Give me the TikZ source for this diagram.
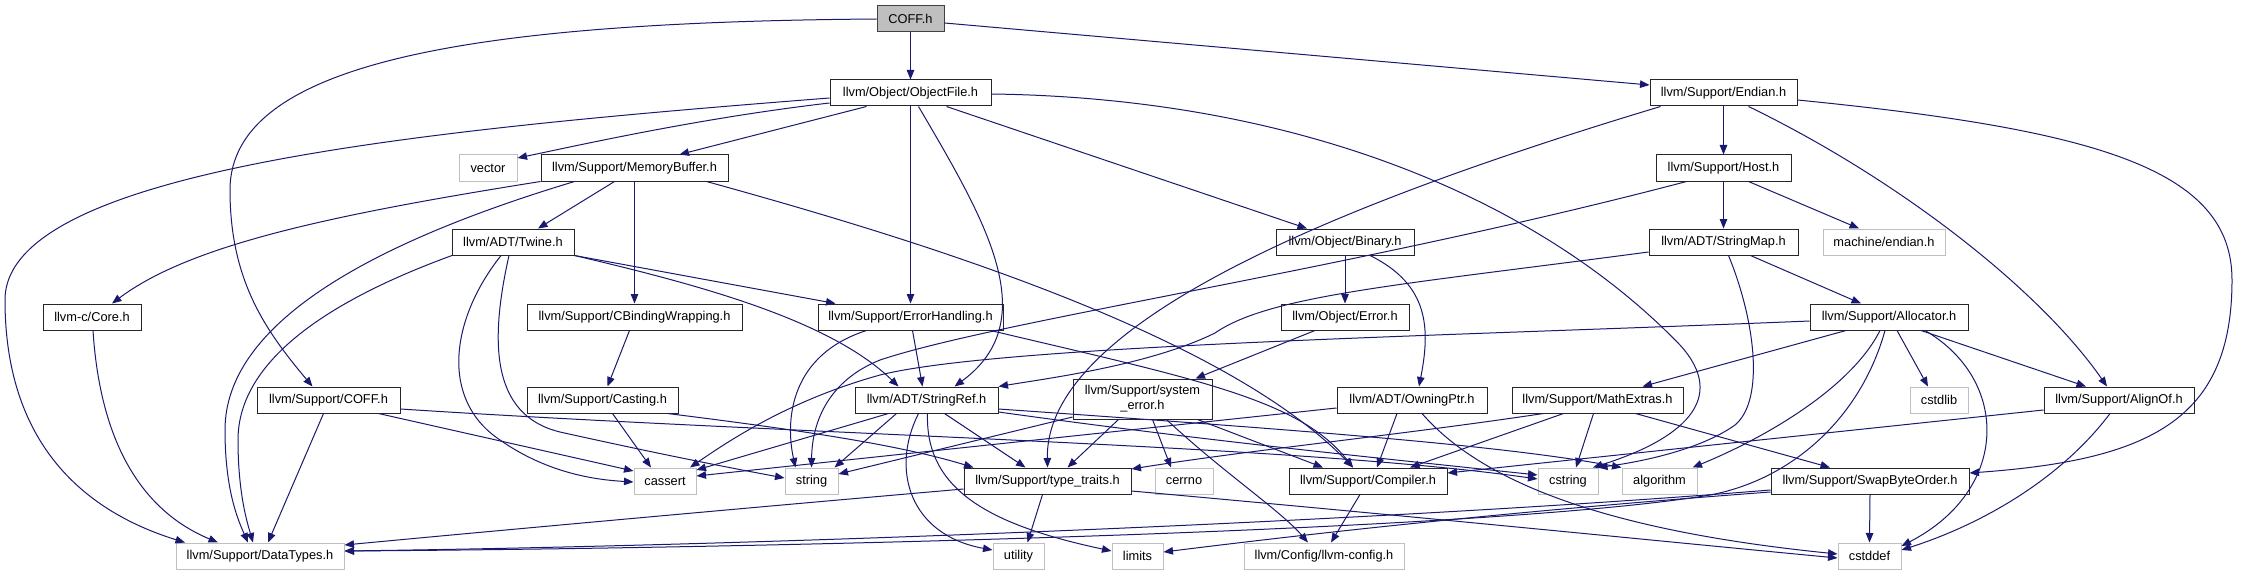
\documentclass[tikz,border=0pt]{standalone}
\usepackage{fontspec}
\setmainfont{Liberation Sans}
\usetikzlibrary{arrows.meta}
\definecolor{edgecol}{HTML}{191970}
\definecolor{greyS}{HTML}{BFBFBF}
\tikzset{
  nd/.style={draw=black!85, line width=1pt, rectangle, inner sep=0pt, minimum height=26pt,
     font=\fontsize{12.8pt}{15pt}\selectfont, text=black, align=center},
  sys/.style={nd, draw=greyS},
  e/.style={draw=edgecol, line width=1pt, -{Triangle[length=9.5pt,width=7.5pt]}},
}
\begin{document}
\begin{tikzpicture}[x=1pt,y=-1pt]
\fill[white] (0,0) rectangle (2241,575);
\useasboundingbox (0,0) rectangle (2241,575);
% nodes
\node[nd, fill=greyS, draw=black!75, minimum width=67pt] (coff) at (910.5,19) {COFF.h};
\node[nd, minimum width=161pt] (objfile) at (910.5,93) {llvm/Object/ObjectFile.h};
\node[nd, minimum width=147pt] (endian) at (1723.5,93) {llvm/Support/Endian.h};
\node[sys, minimum width=58pt] (vector) at (488,168) {vector};
\node[nd, minimum width=187pt] (membuf) at (634.5,168) {llvm/Support/MemoryBuffer.h};
\node[nd, minimum width=138pt] (binary) at (1345,242) {llvm/Object/Binary.h};
\node[nd, minimum width=122pt] (twine) at (513,242) {llvm/ADT/Twine.h};
\node[nd, minimum width=135pt] (host) at (1723.5,168) {llvm/Support/Host.h};
\node[nd, minimum width=149pt] (stringmap) at (1723.5,242) {llvm/ADT/StringMap.h};
\node[sys, minimum width=122pt] (mendian) at (1884,242) {machine/endian.h};
\node[nd, minimum width=98pt] (core) at (92,317) {llvm-c/Core.h};
\node[nd, minimum width=215pt] (cbind) at (634.5,317) {llvm/Support/CBindingWrapping.h};
\node[nd, minimum width=185pt] (errh) at (910.5,317) {llvm/Support/ErrorHandling.h};
\node[nd, minimum width=128pt] (objerr) at (1345,317) {llvm/Object/Error.h};
\node[nd, minimum width=158pt] (alloc) at (1889,317) {llvm/Support/Allocator.h};
\node[nd, minimum width=143pt] (scoff) at (328.5,400) {llvm/Support/COFF.h};
\node[nd, minimum width=151pt] (casting) at (602.5,400) {llvm/Support/Casting.h};
\node[nd, minimum width=143pt] (strref) at (926.5,400) {llvm/ADT/StringRef.h};
\node[nd, minimum width=139pt, minimum height=40pt] (syserr) at (1142.5,399) {llvm/Support/system\\\_error.h};
\node[nd, minimum width=150pt] (owning) at (1412,400) {llvm/ADT/OwningPtr.h};
\node[nd, minimum width=171pt] (mathx) at (1597.5,400) {llvm/Support/MathExtras.h};
\node[sys, minimum width=58pt] (cstdlib) at (1939,400) {cstdlib};
\node[nd, minimum width=150pt] (alignof) at (2119,400) {llvm/Support/AlignOf.h};
\node[sys, minimum width=62pt] (cassert) at (665,481) {cassert};
\node[sys, minimum width=53pt] (string) at (811.5,481) {string};
\node[nd, minimum width=167pt] (typetr) at (1047.5,481) {llvm/Support/type\_traits.h};
\node[sys, minimum width=58pt] (cerrno) at (1184,481) {cerrno};
\node[nd, minimum width=158pt] (compiler) at (1368,481) {llvm/Support/Compiler.h};
\node[sys, minimum width=60pt] (cstring) at (1568,481) {cstring};
\node[sys, minimum width=75pt] (algorithm) at (1659.5,481) {algorithm};
\node[nd, minimum width=198pt] (swapbo) at (1870,481) {llvm/Support/SwapByteOrder.h};
\node[sys, minimum width=168pt] (datatypes) at (260,556) {llvm/Support/DataTypes.h};
\node[sys, minimum width=51pt] (utility) at (1018.5,556) {utility};
\node[sys, minimum width=51pt] (limits) at (1137.5,556) {limits};
\node[sys, minimum width=160pt] (llvmconf) at (1324,556) {llvm/Config/llvm-config.h};
\node[sys, minimum width=63pt] (cstddef) at (1869.5,556) {cstddef};
% edges
\draw[e] (coff.south) -- (objfile.north);
\draw[e] ([yshift=-4pt]coff.east) -- ([yshift=8pt]endian.west);
\draw[e] (coff.west) .. controls (480,22) and (230,60) .. (230,190) .. controls (230,280) and (265,330) .. ([xshift=-16pt]scoff.north);
\draw[e] ([yshift=-10pt]objfile.west) .. controls (700,118) and (580,145) .. ([yshift=10pt]vector.east);
\draw[e] ([xshift=-44pt]objfile.south) -- ([xshift=45pt]membuf.north);
\draw[e] ([yshift=-5pt]objfile.west) .. controls (420,130) and (5,170) .. (5,300) .. controls (5,440) and (80,510) .. ([xshift=-75pt]datatypes.north);
\draw[e] ([xshift=36pt]objfile.south) -- ([xshift=-38pt]binary.north);
\draw[e] (objfile.south) -- (errh.north);
\draw[e] ([xshift=8pt]objfile.south) .. controls (985,220) and (1045,320) .. ([xshift=28pt]strref.north);
\draw[e] ([yshift=-1pt]objfile.east) .. controls (1300,98) and (1540,200) .. (1680,345) .. controls (1730,400) and (1680,440) .. ([xshift=25pt]cstring.north);
\draw[e] (membuf.south west) .. controls (330,215) and (190,245) .. ([xshift=20pt]core.north);
\draw[e] ([xshift=-60pt]membuf.south) .. controls (380,240) and (225,320) .. (225,430) .. controls (225,490) and (238,520) .. ([xshift=-12pt]datatypes.north);
\draw[e] ([xshift=-61pt]twine.south) .. controls (330,300) and (238,360) .. (238,440) .. controls (238,495) and (248,525) .. ([xshift=-7pt]datatypes.north);
\draw[e] ([xshift=-20pt]membuf.south) -- ([xshift=25pt]twine.north);
\draw[e] (membuf.south) -- (cbind.north);
\draw[e] ([xshift=72pt]membuf.south) .. controls (900,235) and (1220,330) .. ([xshift=-15pt]compiler.north);
\draw[e] ([xshift=-12pt]twine.south) .. controls (450,320) and (440,400) .. (500,440) .. controls (550,475) and (600,480) .. ([yshift=-1pt]cassert.west);
\draw[e] ([xshift=-4pt]twine.south) .. controls (490,340) and (490,415) .. (560,432) .. controls (650,452) and (720,466) .. ([yshift=3pt]string.west);
\draw[e] (twine.south east) -- ([xshift=-75pt]errh.north);
\draw[e] (twine.south east) .. controls (700,285) and (830,320) .. ([xshift=-28pt]strref.north);
\draw[e] ([xshift=-5pt]cbind.south) -- ([xshift=5pt]casting.north);
\draw[e] ([xshift=10pt]casting.south) -- ([xshift=-14pt]cassert.north);
\draw[e] ([xshift=65pt]casting.south) .. controls (800,430) and (900,445) .. ([xshift=-74pt]typetr.north);
\draw[e] ([xshift=-5pt]scoff.south) -- ([xshift=8pt]datatypes.north);
\draw[e] ([xshift=50pt]scoff.south) -- ([yshift=10pt]cassert.west);
\draw[e] ([yshift=-9pt]scoff.east) .. controls (800,435) and (1300,445) .. ([yshift=2pt]cstring.west);
\draw[e] ([xshift=1pt]core.south) .. controls (100,440) and (140,510) .. ([xshift=-42pt]datatypes.north);
\draw[e] ([xshift=-44pt]errh.south) .. controls (790,355) and (785,420) .. ([xshift=-16pt]string.north);
\draw[e] ([xshift=2pt]errh.south) -- ([xshift=-4pt]strref.north);
\draw[e] ([xshift=80pt]errh.south) .. controls (1200,380) and (1300,400) .. ([xshift=-15pt]compiler.north);
\draw[e] ([xshift=-30pt]strref.south) -- ([xshift=23pt]string.north);
\draw[e] ([xshift=-38pt]strref.south) -- ([yshift=11pt]cassert.east);
\draw[e] ([xshift=18pt]strref.south) -- ([xshift=-22pt]typetr.north);
\draw[e] ([xshift=-8pt]strref.south) .. controls (890,470) and (910,535) .. ([yshift=6pt]utility.west);
\draw[e] ([xshift=1pt]strref.south) .. controls (925,490) and (990,525) .. ([yshift=5pt]limits.west);
\draw[e] ([yshift=-12pt]strref.east) .. controls (1200,440) and (1350,455) .. ([yshift=6pt]cstring.west);
\draw[e] ([yshift=-9pt]strref.east) .. controls (1300,430) and (1500,445) .. (algorithm.north west);
\draw[e] ([xshift=-24pt]syserr.south) -- ([xshift=20pt]typetr.north);
\draw[e] ([xshift=10pt]syserr.south) -- ([xshift=-13pt]cerrno.north);
\draw[e] ([xshift=24pt]syserr.south) .. controls (1220,470) and (1280,510) .. ([xshift=-16pt]llvmconf.north);
\draw[e] ([xshift=55pt]syserr.south) -- ([xshift=-45pt]compiler.north);
\draw[e] ([yshift=-18pt]syserr.west) -- ([yshift=7pt]string.east);
\draw[e] ([xshift=-30pt]objerr.south) -- ([xshift=53pt]syserr.north);
\draw[e] (binary.south) -- (objerr.north);
\draw[e] ([xshift=25pt]binary.south) .. controls (1430,285) and (1430,330) .. ([xshift=7pt]owning.north);
\draw[e] ([xshift=-15pt]owning.south) -- ([xshift=9pt]compiler.north);
\draw[e] ([yshift=-8pt]owning.west) -- ([yshift=5pt]cassert.east);
\draw[e] ([xshift=10pt]owning.south) .. controls (1480,480) and (1600,530) .. ([yshift=2pt]cstddef.west);
\draw[e] ([yshift=-10pt]typetr.east) .. controls (1400,515) and (1700,545) .. ([yshift=-2pt]cstddef.west);
\draw[e] ([yshift=-8pt]typetr.west) .. controls (700,512) and (450,535) .. ([yshift=11pt]datatypes.east);
\draw[e] ([xshift=-5pt]typetr.south) -- ([xshift=9pt]utility.north);
\draw[e] ([xshift=-8pt]compiler.south) -- ([xshift=7pt]llvmconf.north);
\draw[e] (endian.south) -- (host.north);
\draw[e] ([xshift=-63pt]endian.south) .. controls (1350,200) and (1045,320) .. (typetr.north);
\draw[e] ([xshift=25pt]endian.south) .. controls (1900,180) and (2040,290) .. ([xshift=-12pt]alignof.north);
\draw[e] ([yshift=-7pt]endian.east) .. controls (2100,130) and (2232,170) .. (2232,280) .. controls (2232,420) and (2150,460) .. ([yshift=8pt]swapbo.east);
\draw[e] (host.south) -- (stringmap.north);
\draw[e] ([xshift=25pt]host.south) -- ([xshift=-25pt]mendian.north);
\draw[e] ([xshift=-37pt]host.south) .. controls (1350,270) and (1000,320) .. (880,360) .. controls (830,380) and (812,420) .. (string.north);
\draw[e] ([yshift=-10pt]stringmap.west) .. controls (1400,285) and (1270,295) .. (1215,333) .. controls (1150,365) and (1050,378) .. (strref.north east);
\draw[e] ([xshift=27pt]stringmap.south) -- ([xshift=-28pt]alloc.north);
\draw[e] ([xshift=5pt]stringmap.south) .. controls (1755,320) and (1765,400) .. (1735,425) .. controls (1700,450) and (1640,462) .. ([xshift=30pt]cstring.north);
\draw[e] ([yshift=-4pt]alloc.west) .. controls (1450,336) and (1000,345) .. (880,375) .. controls (790,400) and (730,440) .. ([xshift=25pt]cassert.north);
\draw[e] ([xshift=-43pt]alloc.south) -- ([xshift=45pt]mathx.north);
\draw[e] ([xshift=-9pt]alloc.south) .. controls (1850,390) and (1760,440) .. ([xshift=33pt]algorithm.north);
\draw[e] ([xshift=-4pt]alloc.south) .. controls (1860,420) and (1790,480) .. (1710,495) .. controls (1500,530) and (800,548) .. ([yshift=5pt]datatypes.east);
\draw[e] ([xshift=8pt]alloc.south) -- ([xshift=-11pt]cstdlib.north);
\draw[e] ([xshift=32pt]alloc.south) -- ([xshift=-33pt]alignof.north);
\draw[e] ([xshift=36pt]alloc.south) .. controls (2010,380) and (2010,490) .. ([yshift=10pt]cstddef.east);
\draw[e] ([xshift=-9pt]alignof.south) .. controls (2060,480) and (1980,525) .. ([yshift=6pt]cstddef.east);
\draw[e] ([yshift=-10pt]alignof.west) -- ([yshift=8pt]compiler.east);
\draw[e] ([xshift=-4pt]mathx.south) -- ([xshift=8pt]cstring.north);
\draw[e] ([xshift=38pt]mathx.south) -- ([xshift=-40pt]swapbo.north);
\draw[e] ([xshift=-34pt]mathx.south) -- ([xshift=42pt]compiler.north);
\draw[e] ([xshift=-54pt]mathx.south) .. controls (1400,435) and (1250,450) .. ([yshift=12pt]typetr.east);
\draw[e] (swapbo.south) -- (cstddef.north);
\draw[e] ([yshift=-9pt]swapbo.west) .. controls (1400,520) and (800,545) .. ([yshift=5pt]datatypes.east);
\draw[e] ([yshift=-11pt]swapbo.west) .. controls (1500,512) and (1300,535) .. ([yshift=4pt]limits.east);
\end{tikzpicture}
\end{document}
